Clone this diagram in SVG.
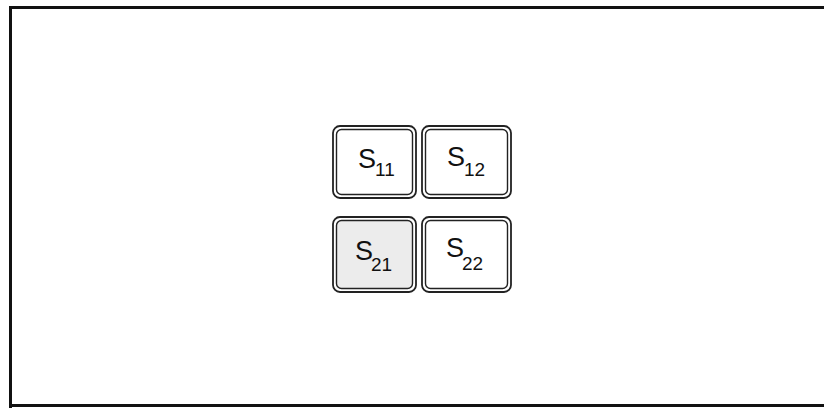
<svg xmlns="http://www.w3.org/2000/svg" width="824" height="408" viewBox="0 0 824 408">
<style>
.frame{fill:none;stroke:#111;stroke-width:3}
.outer{fill:#fff;stroke:#222;stroke-width:1.8}
.inner{fill:none;stroke:#222;stroke-width:1.4}
.shade{fill:#ececec}
.s{font-family:"Liberation Sans",Arial,sans-serif;font-size:27px;fill:#111}
.sub{font-family:"Liberation Sans",Arial,sans-serif;font-size:19px;fill:#111}
</style>
<rect width="824" height="408" fill="#fff"/>
<path class="frame" d="M10.5,408 V7.5 H824 M10,405.5 H824"/>
<g id="S11">
<rect class="outer" x="333" y="126" width="83" height="72" rx="7"/>
<rect class="inner" x="336.5" y="129.5" width="76" height="65" rx="5"/>
<text class="s" x="358" y="168">S</text><text class="sub" x="375" y="176">11</text>
</g>
<g id="S12">
<rect class="outer" x="422" y="126" width="89" height="72" rx="7"/>
<rect class="inner" x="425.5" y="129.5" width="82" height="65" rx="5"/>
<text class="s" x="447" y="166">S</text><text class="sub" x="464" y="176">12</text>
</g>
<g id="S21">
<rect class="outer" x="333" y="217" width="83" height="75" rx="7"/>
<rect class="inner shade" x="336.5" y="220.5" width="76" height="68" rx="5"/>
<text class="s" x="355" y="260">S</text><text class="sub" x="371" y="271">21</text>
</g>
<g id="S22">
<rect class="outer" x="422" y="217" width="89" height="75" rx="7"/>
<rect class="inner" x="425.5" y="220.5" width="82" height="68" rx="5"/>
<text class="s" x="446" y="257">S</text><text class="sub" x="462" y="270">22</text>
</g>
<g id="connectors"/>
</svg>
